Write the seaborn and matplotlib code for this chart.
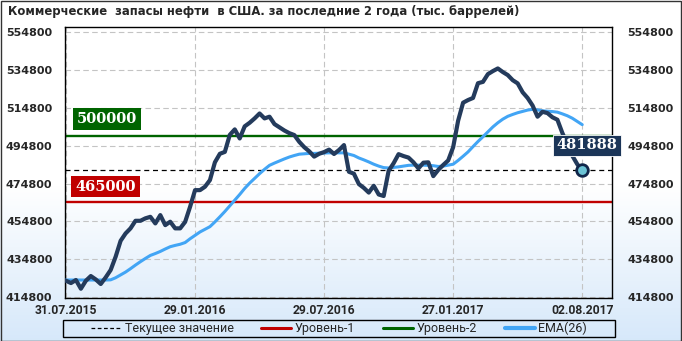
import numpy as np
import pandas as pd
import matplotlib
matplotlib.use("Agg")
import matplotlib.pyplot as plt
import seaborn as sns
from matplotlib.lines import Line2D
from matplotlib.patches import Rectangle
import matplotlib.transforms as mtrans

# ---------------- data ----------------
title = "Коммерческие  запасы нефти  в США. за последние 2 года (тыс. баррелей)"
tick_dates = ["31.07.2015", "29.01.2016", "29.07.2016", "27.01.2017", "02.08.2017"]
tick_weeks = [0, 26, 52, 78, 104]
y_ticks = [414800, 434800, 454800, 474800, 494800, 514800, 534800, 554800]

stocks = [
    423400, 422200, 423800, 419200, 423400, 425900, 424100, 421700, 425200, 429100,
    436100, 444500, 448400, 451100, 455100, 455100, 456400, 457200, 453700, 458100,
    452800, 454600, 451100, 451100, 454500, 462500, 471300, 471300, 473100, 476600,
    486000, 490500, 491500, 500500, 503400, 498600, 505000, 506900, 509200, 511800,
    509200, 510100, 506200, 504500, 502800, 501400, 500400, 496800, 494000, 491800,
    489000, 490500, 491400, 492700, 490400, 492500, 495100, 481000, 480000, 474500,
    472500, 470000, 473600, 469000, 468200, 481500, 485500, 490300, 489300, 488500,
    486000, 482800, 485800, 486000, 478700, 482000, 484600, 487000, 494000, 508000,
    517500, 518900, 520000, 527800, 528500, 532600, 534200, 535600, 533700, 532100,
    529400, 527700, 523000, 520000, 516000, 510100, 512700, 512000, 509800, 508500,
    501500, 495500, 489500, 485000, 481888]

ema26 = [
    423800, 423800, 423800, 423800, 423800, 423800, 423800, 423800, 423800, 423900,
    425000, 426500, 428000, 429800, 431700, 433500, 435200, 436800, 437800, 438900,
    440200, 441400, 442100, 442700, 443600, 445600, 447400, 449200, 450600, 452000,
    454500, 457200, 460000, 463000, 466000, 469000, 472200, 475000, 477500, 480000,
    482300, 484400, 485600, 486700, 487800, 488800, 489600, 490300, 490500, 490700,
    490700, 490800, 490900, 491000, 491000, 491000, 491000, 490300, 489600, 488300,
    487300, 486200, 485000, 484000, 483200, 483000, 483300, 483600, 484000, 484400,
    484500, 484500, 484500, 484400, 484200, 483800, 484000, 484500, 485000, 487000,
    489200, 491500, 494300, 497000, 499500, 502100, 504700, 506900, 508800, 510300,
    511300, 512200, 512900, 513600, 514000, 513700, 513200, 513000, 512800, 512500,
    511600, 510600, 509300, 507600, 505900]

level_1 = 465000
level_2 = 500000
current_value = 481888
legend_labels = ["Текущее значение", "Уровень-1", "Уровень-2", "EMA(26)"]

# ---------------- style ----------------
sns.set_style("white")
plt.rcParams['font.family'] = ['DejaVu Sans']
NARROW = ['Roboto', 'DejaVu Sans']

W, H = 682, 341
fig = plt.figure(figsize=(W / 100, H / 100), dpi=100)

def px(x, y):
    return (x / W, 1 - y / H)

# background gradient (white -> light blue toward the bottom)
bg = fig.add_axes([0, 0, 1, 1], zorder=-10)
rows = np.arange(H)
t = np.clip((rows - 185) / (H - 185), 0, 1)[:, None, None]
top = np.array([1.0, 1.0, 1.0])
bot = np.array([0.84, 0.91, 0.98])
grad = top * (1 - t) + bot * t
bg.imshow(grad, aspect='auto', extent=[0, 1, 0, 1], origin='upper')
bg.set_xlim(0, 1); bg.set_ylim(0, 1)
bg.axis('off')
fig.patches.append(Rectangle((0.5 / W, 0.5 / H), 1 - 1.5 / W, 1 - 1.5 / H,
                             transform=fig.transFigure, fill=False,
                             edgecolor='#333333', linewidth=1.0))

fig.text(*px(8, 12), title, fontsize=9.3, fontweight='bold',
         family=['DejaVu Sans'], fontstretch='condensed', ha='left', va='center')

L, R, T, B = 65, 612, 27, 298
ax = fig.add_axes([L / W, 1 - B / H, (R - L) / W, (B - T) / H])
ax.patch.set_alpha(0)

df = pd.DataFrame({"week": np.arange(len(stocks)), "stocks": stocks, "ema": ema26})

ax.set_xlim(-0.2, 110)
ax.set_ylim(414300, 557500)

# grid
ax.set_yticks(y_ticks)
ax.set_xticks(tick_weeks)
ax.grid(True, color='#c4c4c4', linewidth=0.8, linestyle=(0, (5, 3)))

# level lines
ax.axhline(level_2, color='#006400', linewidth=1.7, zorder=2)
ax.axhline(level_1, color='#c00000', linewidth=1.7, zorder=2)
ax.axhline(current_value, color='black', linewidth=0.9, linestyle=(0, (4, 3)), zorder=2)

sns.lineplot(data=df, x="week", y="ema", color='#42a5f5', linewidth=2.2, ax=ax, zorder=3)
sns.lineplot(data=df, x="week", y="stocks", color='#243b5c', linewidth=3.0, ax=ax, zorder=4)
sns.scatterplot(x=[df.week.iloc[-1]], y=[current_value], s=70, color='#6cc4d6',
                edgecolor='#10264a', linewidth=2.0, ax=ax, zorder=6)

ax.set_xlabel(""); ax.set_ylabel("")
ax.set_xticklabels(tick_dates)
for lab in ax.get_xticklabels():
    lab.set_fontfamily(NARROW)
    lab.set_fontweight('bold')
    lab.set_fontsize(8.7)
ax.tick_params(axis='x', length=0, pad=4)
ax.set_yticklabels([str(v) for v in y_ticks], fontweight='bold', fontsize=8)
ax.tick_params(axis='y', length=0, pad=9)
for s in ax.spines.values():
    s.set_color('black'); s.set_linewidth(1.0)

ax2 = ax.twinx()
ax2.set_ylim(ax.get_ylim())
ax2.set_yticks(y_ticks)
ax2.set_yticklabels([str(v) for v in y_ticks], fontweight='bold', fontsize=8)
ax2.tick_params(axis='y', length=0, pad=11)
for s in ax2.spines.values():
    s.set_visible(False)

# level labels
blend = mtrans.blended_transform_factory(ax.transAxes, ax.transData)
box_kw = dict(boxstyle='square,pad=0.27', edgecolor='none')
ax.text(0.021, 509000, f"{level_2}", transform=blend, color='white', fontsize=10.5,
        fontweight='bold', family='DejaVu Serif', ha='left', va='center', zorder=7,
        bbox=dict(facecolor='#006400', **box_kw))
ax.text(0.019, 473200, f"{level_1}", transform=blend, color='white', fontsize=10.5,
        fontweight='bold', family='DejaVu Serif', ha='left', va='center', zorder=7,
        bbox=dict(facecolor='#c00000', **box_kw))
ax.text(104.9, 494900, f"{current_value}", color='white', fontsize=10.5,
        fontweight='bold', family='DejaVu Serif', ha='center', va='center', zorder=8,
        clip_on=False,
        bbox=dict(boxstyle='square,pad=0.25', facecolor='#1b3558', edgecolor='white', linewidth=0.6))

# legend (frame drawn separately: wide horizontal padding)
fig.patches.append(Rectangle(px(63, 337), (615 - 63) / W, 17 / H,
                             transform=fig.transFigure, fill=False,
                             edgecolor='black', linewidth=1.0))
handles = [
    Line2D([], [], color='black', linewidth=0.9, linestyle=(0, (3, 2))),
    Line2D([], [], color='#c00000', linewidth=2.2),
    Line2D([], [], color='#006400', linewidth=2.2),
    Line2D([], [], color='#42a5f5', linewidth=3.0),
]
leg = fig.legend(handles, legend_labels, loc='center', ncol=4,
                 bbox_to_anchor=px(339, 328.5), frameon=False,
                 prop={'family': NARROW, 'size': 9},
                 handlelength=2.4, handletextpad=0.3, columnspacing=2.2,
                 borderpad=0.1, borderaxespad=0)

fig.savefig("out.png", dpi=100)
